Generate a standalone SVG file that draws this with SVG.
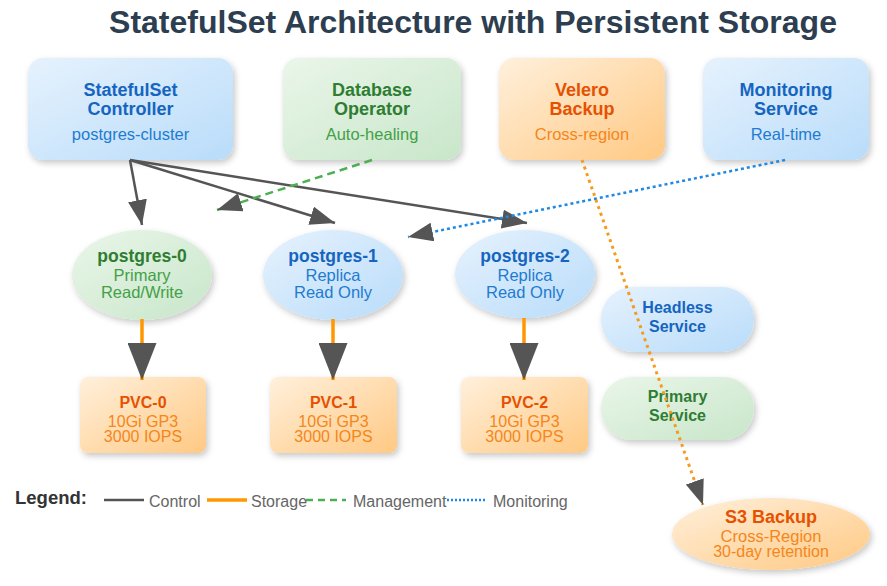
<svg xmlns="http://www.w3.org/2000/svg" width="887" height="586" viewBox="0 0 887 586">
<defs>
<linearGradient id="gBlue" x1="0" y1="0" x2="1" y2="1"><stop offset="0" stop-color="#e6f2fd"/><stop offset="1" stop-color="#b9dcfa"/></linearGradient>
<linearGradient id="gGreen" x1="0" y1="0" x2="1" y2="1"><stop offset="0" stop-color="#eaf6ea"/><stop offset="1" stop-color="#c8e6c9"/></linearGradient>
<linearGradient id="gOrange" x1="0" y1="0" x2="1" y2="1"><stop offset="0" stop-color="#fff0dc"/><stop offset="1" stop-color="#ffc983"/></linearGradient>
<filter id="sh" x="-20%" y="-20%" width="140%" height="150%"><feDropShadow dx="2" dy="3" stdDeviation="3" flood-color="#000" flood-opacity="0.22"/></filter>
<marker id="arr" markerUnits="userSpaceOnUse" viewBox="0 0 25 19" markerWidth="25" markerHeight="19" refX="25" refY="9.5" orient="auto"><path d="M0,0 L25,9.5 L0,19 Z" fill="#555"/></marker>
<marker id="arrBig" markerUnits="userSpaceOnUse" viewBox="0 0 37 29" markerWidth="37" markerHeight="29" refX="37" refY="14.5" orient="auto"><path d="M0,0 L37,14.5 L0,29 Z" fill="#555"/></marker>
<style>
text{font-family:"Liberation Sans",Arial,sans-serif;text-anchor:middle}
.title{font-size:32px;font-weight:bold;fill:#2c3e50}
.h{font-size:18px;font-weight:bold}
.s{font-size:16.5px}
.eh{font-size:17.5px;font-weight:bold}
.ph{font-size:16px;font-weight:bold}
.ps{font-size:16px}
.blueH{fill:#1565c0}.blueS{fill:#1e7bd0}
.greenH{fill:#2e7d32}.greenS{fill:#43a047}
.orH{fill:#e65100}.orS{fill:#f5861a}
.ctl{stroke:#555;stroke-width:2.5;fill:none}
.sto{stroke:#ff9800;stroke-width:3.5;fill:none}
.mgmt{stroke:#4caf50;stroke-width:2.5;stroke-dasharray:8,5;fill:none}
.mon{stroke:#1e88e5;stroke-width:2.5;stroke-dasharray:3,3;fill:none}
.bak{stroke:#f59b1f;stroke-width:3;stroke-dasharray:3,4;fill:none}
.leg{font-size:16px;fill:#666;text-anchor:start}
</style>
</defs>
<rect width="887" height="586" fill="#ffffff"/>
<text class="title" x="473" y="33">StatefulSet Architecture with Persistent Storage</text>

<g id="statefulset-controller">
<rect x="28" y="58" width="205" height="102" rx="15" fill="url(#gBlue)" filter="url(#sh)"/>
<text class="h blueH" x="130.5" y="96">StatefulSet</text>
<text class="h blueH" x="130.5" y="115">Controller</text>
<text class="s blueS" x="130.5" y="140">postgres-cluster</text>
</g>
<g id="database-operator">
<rect x="283" y="58" width="178" height="102" rx="15" fill="url(#gGreen)" filter="url(#sh)"/>
<text class="h greenH" x="372" y="96">Database</text>
<text class="h greenH" x="372" y="115">Operator</text>
<text class="s greenS" x="372" y="140">Auto-healing</text>
</g>
<g id="velero-backup">
<rect x="499" y="58" width="166" height="102" rx="15" fill="url(#gOrange)" filter="url(#sh)"/>
<text class="h orH" x="582" y="96">Velero</text>
<text class="h orH" x="582" y="115">Backup</text>
<text class="s orS" x="582" y="140">Cross-region</text>
</g>
<g id="monitoring-service">
<rect x="703" y="58" width="166" height="102" rx="15" fill="url(#gBlue)" filter="url(#sh)"/>
<text class="h blueH" x="786" y="96">Monitoring</text>
<text class="h blueH" x="786" y="115">Service</text>
<text class="s blueS" x="786" y="140">Real-time</text>
</g>

<g id="postgres-0">
<ellipse cx="142" cy="275" rx="70" ry="45" fill="url(#gGreen)" filter="url(#sh)"/>
<text class="eh greenH" x="142" y="262">postgres-0</text>
<text class="s greenS" x="142" y="281">Primary</text>
<text class="s greenS" x="142" y="298">Read/Write</text>
</g>
<g id="postgres-1">
<ellipse cx="333" cy="275" rx="70" ry="45" fill="url(#gBlue)" filter="url(#sh)"/>
<text class="eh blueH" x="333" y="262">postgres-1</text>
<text class="s blueS" x="333" y="281">Replica</text>
<text class="s blueS" x="333" y="298">Read Only</text>
</g>
<g id="postgres-2">
<ellipse cx="525" cy="274" rx="70" ry="44" fill="url(#gBlue)" filter="url(#sh)"/>
<text class="eh blueH" x="525" y="262">postgres-2</text>
<text class="s blueS" x="525" y="281">Replica</text>
<text class="s blueS" x="525" y="298">Read Only</text>
</g>

<g id="pvc-0">
<rect x="80" y="377" width="126" height="76" rx="8" fill="url(#gOrange)" filter="url(#sh)"/>
<text class="ph orH" x="143" y="408">PVC-0</text>
<text class="ps orS" x="143" y="427">10Gi GP3</text>
<text class="ps orS" x="143" y="442">3000 IOPS</text>
</g>
<g id="pvc-1">
<rect x="270" y="377" width="127" height="76" rx="8" fill="url(#gOrange)" filter="url(#sh)"/>
<text class="ph orH" x="333.5" y="408">PVC-1</text>
<text class="ps orS" x="333.5" y="427">10Gi GP3</text>
<text class="ps orS" x="333.5" y="442">3000 IOPS</text>
</g>
<g id="pvc-2">
<rect x="461" y="377" width="127" height="76" rx="8" fill="url(#gOrange)" filter="url(#sh)"/>
<text class="ph orH" x="524.5" y="408">PVC-2</text>
<text class="ps orS" x="524.5" y="427">10Gi GP3</text>
<text class="ps orS" x="524.5" y="442">3000 IOPS</text>
</g>

<g id="headless-service">
<rect x="601" y="287" width="153" height="65" rx="32" fill="url(#gBlue)" filter="url(#sh)"/>
<text class="ph blueH" x="677.5" y="313">Headless</text>
<text class="ph blueH" x="677.5" y="332">Service</text>
</g>
<g id="primary-service">
<rect x="601" y="377" width="153" height="63" rx="31" fill="url(#gGreen)" filter="url(#sh)"/>
<text class="ph greenH" x="677.5" y="402">Primary</text>
<text class="ph greenH" x="677.5" y="421">Service</text>
</g>
<g id="s3-backup">
<ellipse cx="771" cy="534" rx="99" ry="36" fill="url(#gOrange)" filter="url(#sh)"/>
<text class="h orH" x="771" y="523">S3 Backup</text>
<text class="s orS" x="771" y="542">Cross-Region</text>
<text class="ps orS" x="771" y="557">30-day retention</text>
</g>

<g id="connectors">
<path class="ctl" d="M130,160 L142,225" marker-end="url(#arr)"/>
<path class="ctl" d="M130,160 L335,223" marker-end="url(#arr)"/>
<path class="ctl" d="M130,160 L527,223" marker-end="url(#arr)"/>
<path class="sto" d="M142,319 L142,380" marker-end="url(#arrBig)"/>
<path class="sto" d="M333,319 L333,380" marker-end="url(#arrBig)"/>
<path class="sto" d="M524,318 L524,380" marker-end="url(#arrBig)"/>
<path class="mgmt" d="M372,160 L217,210" marker-end="url(#arr)"/>
<path class="mon" d="M785,160 L408,237" marker-end="url(#arr)"/>
<path class="bak" d="M582,160 L703,505" marker-end="url(#arr)"/>
</g>

<g id="legend">
<text x="15" y="504" style="font-size:18.5px;font-weight:bold;fill:#333;text-anchor:start">Legend:</text>
<line x1="104" y1="500" x2="144" y2="500" stroke="#555" stroke-width="2.5"/>
<text class="leg" x="149" y="507">Control</text>
<line x1="207" y1="500" x2="247" y2="500" stroke="#ff9800" stroke-width="3.5"/>
<text class="leg" x="251" y="507">Storage</text>
<line x1="306" y1="500" x2="346" y2="500" stroke="#4caf50" stroke-width="2.5" stroke-dasharray="7,5"/>
<text class="leg" x="353" y="507">Management</text>
<line x1="447" y1="500" x2="487" y2="500" stroke="#1e88e5" stroke-width="2.5" stroke-dasharray="2,2"/>
<text class="leg" x="493" y="507">Monitoring</text>
</g>
</svg>
